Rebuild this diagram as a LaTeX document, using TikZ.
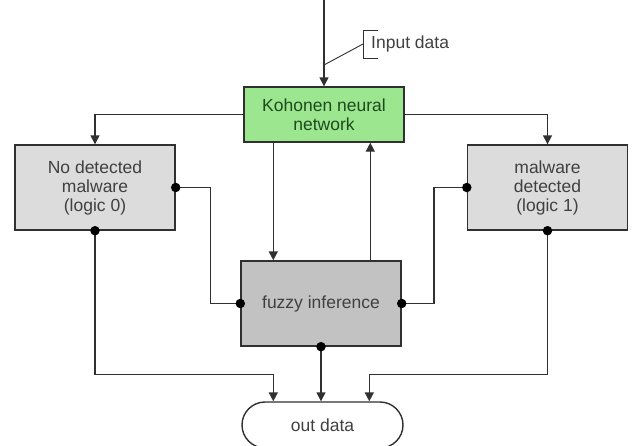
\documentclass[tikz,border=0pt]{standalone}
\usepackage{fontspec}
\setmainfont{Liberation Sans}
\usetikzlibrary{arrows.meta}
\definecolor{linec}{HTML}{303030}
\definecolor{textc}{HTML}{404040}
\definecolor{greenfill}{HTML}{9BE68F}
\definecolor{greentext}{HTML}{1E4A1E}
\definecolor{lightbox}{HTML}{DCDCDC}
\definecolor{darkbox}{HTML}{C2C2C2}
\tikzset{
  block/.style={draw=linec, line width=1.4pt, minimum width=160pt, align=center,
    text=textc, font=\fontsize{17.5}{19}\selectfont, inner sep=0pt},
  conn/.style={draw=linec, line width=1.4pt},
  arr/.style={conn, -{Triangle[length=9pt,width=9pt]}},
  dotc/.style={circle, fill=black, inner sep=0pt, minimum size=9.5pt},
}
\begin{document}
\begin{tikzpicture}[x=1pt, y=-1pt]
  \clip (0,0) rectangle (638,445);
  \fill[white] (0,0) rectangle (638,445);

  % blocks
  \node[block, fill=greenfill, text=greentext, minimum height=55pt] (koh) at (324,114.5) {Kohonen neural\\network};
  \node[block, fill=lightbox, minimum height=85pt] (nd) at (95,187.5) {No detected\\malware\\(logic 0)};
  \node[block, fill=lightbox, minimum height=85pt] (md) at (547.5,187.5) {malware\\detected\\(logic 1)};
  \node[block, fill=darkbox, minimum height=85pt] (fz) at (321,303.5) {fuzzy inference};
  \node[block, fill=white, minimum width=161pt, minimum height=46pt, rounded corners=23pt] (out) at (322.5,425) {out data};

  % input line with its label
  \coordinate (in) at (324,0);
  \coordinate (tap) at (324,65);
  \coordinate (brk) at (363,44);
  \draw[arr] (in) -- (koh.north);
  \draw[conn, line width=0.9pt] (tap) -- (brk);
  \draw[conn, line width=0.9pt] ([xshift=15pt,yshift=-14pt]brk) -- ([yshift=-14pt]brk) -- ([yshift=14pt]brk) -- ([xshift=15pt,yshift=14pt]brk);
  \node[anchor=west, inner sep=0pt, text=textc, font=\fontsize{17.5}{19}\selectfont] (inlab) at ([xshift=8pt]brk) {Input data};

  % Kohonen to the class boxes
  \draw[arr] (koh.west) -| (nd.north);
  \draw[arr] (koh.east) -| (md.north);

  % Kohonen <-> fuzzy inference
  \draw[arr] ([xshift=30pt]koh.south west) -- ([xshift=30pt]koh.south west |- fz.north);
  \draw[arr] ([xshift=130pt]fz.north west) -- ([xshift=130pt]fz.north west |- koh.south);

  % class boxes to fuzzy inference
  \draw[conn] (nd.east) -- ++(35,0) |- (fz.west);
  \draw[conn] (md.west) -- ++(-33,0) |- (fz.east);
  \node[dotc] (d1) at (nd.east) {};
  \node[dotc] (d2) at (fz.west) {};
  \node[dotc] (d3) at (md.west) {};
  \node[dotc] (d4) at (fz.east) {};

  % outputs
  \coordinate (jl) at ([xshift=32pt]out.north west);
  \coordinate (jr) at ([xshift=128pt]out.north west);
  \draw[arr] (nd.south) |- ([yshift=27pt]jl) -- (jl);
  \draw[arr] (md.south) |- ([yshift=27pt]jr) -- (jr);
  \draw[arr] (fz.south) -- (fz.south |- out.north);
  \node[dotc] (d5) at (nd.south) {};
  \node[dotc] (d6) at (md.south) {};
  \node[dotc] (d7) at (fz.south) {};
\end{tikzpicture}
\end{document}
